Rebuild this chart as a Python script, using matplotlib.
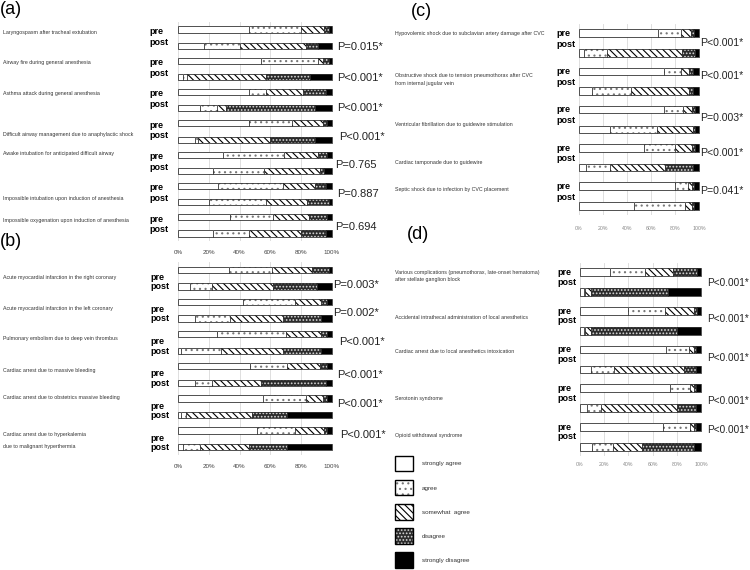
import matplotlib
matplotlib.use("Agg")
import numpy as np
from matplotlib import pyplot as plt
from matplotlib.patches import Patch
from matplotlib.legend_handler import HandlerTuple
from matplotlib.transforms import blended_transform_factory

# response categories (segments left -> right)
responses = ["strongly agree", "agree", "somewhat  agree", "disagree", "strongly disagree"]

# (a)
a_labels = ["Laryngospasm after tracheal extubation",
            "Airway fire during general anesthesia",
            "Asthma attack during general anesthesia",
            "Difficult airway management due to anaphylactic shock",
            "Awake intubation for anticipated difficult airway",
            "Impossible intubation upon induction of anesthesia",
            "Impossible oxygenation upon induction of anesthesia"]
a_pre = [[46, 34, 15, 3, 2], [54, 37, 3, 4, 2], [46, 11, 24, 15, 4], [46, 28, 20, 3, 3],
         [29, 40, 22, 6, 3], [26, 42, 21, 7, 4], [34, 28, 23, 12, 3]]
a_post = [[17, 23, 43, 8, 9], [3, 3, 51, 29, 14], [14, 11, 6, 58, 11], [11, 2, 47, 29, 11],
          [23, 33, 36, 3, 5], [20, 37, 27, 14, 2], [23, 23, 34, 16, 4]]
a_pvals = ["P=0.015*", "P<0.001*", "P<0.001*", "P<0.001*", "P=0.765", "P=0.887", "P=0.694"]

# (b)
b_labels = ["Acute myocardial infarction in the right coronary",
            "Acute myocardial infarction in the left coronary",
            "Pulmonary embolism due to deep vein thrombus",
            "Cardiac arrest due to massive bleeding",
            "Cardiac arrest due to obstetrics massive bleeding",
            "Cardiac arrest due to hyperkalemia\ndue to malignant hyperthermia"]
b_pre = [[33, 28, 26, 11, 2], [42, 34, 17, 4, 3], [25, 45, 23, 4, 3],
         [47, 24, 21, 5, 3], [55, 28, 11, 3, 3], [51, 25, 19, 2, 3]]
b_post = [[8, 14, 40, 28, 10], [11, 23, 34, 25, 7], [2, 26, 40, 25, 7],
          [11, 11, 32, 42, 4], [2, 3, 43, 23, 29], [3, 11, 32, 25, 29]]
b_pvals = ["P=0.003*", "P=0.002*", "P<0.001*", "P<0.001*", "P<0.001*", "P<0.001*"]

# (c)
c_labels = ["Hypovolemic shock due to subclavian artery damage after CVC",
            "Obstructive shock due to tension pneumothorax after CVC\nfrom internal jugular vein",
            "Ventricular fibrillation due to guidewire stimulation",
            "Cardiac tamponade due to guidewire",
            "Septic shock due to infection by CVC placement"]
c_pre = [[66, 19, 8, 3, 4], [71, 14, 7, 3, 5], [71, 16, 7, 3, 3], [54, 26, 14, 3, 3], [80, 11, 3, 2, 4]]
c_post = [[4, 19, 63, 11, 3], [11, 32, 49, 3, 5], [26, 39, 30, 2, 3], [6, 20, 46, 23, 5], [46, 42, 6, 2, 4]]
c_pvals = ["P<0.001*", "P<0.001*", "P=0.003*", "P<0.001*", "P=0.041*"]

# (d)
d_labels = ["Various complications (pneumothorax, late-onset hematoma)\nafter stellate ganglion block",
            "Accidental intrathecal administration of local anesthetics",
            "Cardiac arrest due to local anesthetics intoxication",
            "Serotonin syndrome",
            "Opioid withdrawal syndrome"]
d_pre = [[25, 29, 23, 20, 3], [40, 30, 24, 3, 3], [71, 19, 4, 2, 4], [74, 17, 3, 2, 4], [69, 22, 3, 2, 4]]
d_post = [[3, 1, 5, 64, 27], [3, 1, 5, 71, 20], [9, 19, 58, 10, 4], [6, 11, 63, 16, 4], [10, 17, 24, 43, 6]]
d_pvals = ["P<0.001*"] * 5

# segment styles
faces = ['white', 'white', 'white', '#2b2b2b', 'black']
hatches = [None, '...', '\\' * 5, '.....', None]
hatch_colors = ['white', '#777777', 'black', '#d8d8d8', 'black']

plt.rcParams['font.family'] = ['Liberation Sans', 'DejaVu Sans']
plt.rcParams['hatch.linewidth'] = 0.8

W, H = 750, 570
fig = plt.figure(figsize=(W / 100, H / 100), dpi=100)


def px_rect(x0, y0, x1, y1):
    return [x0 / W, 1 - y1 / H, (x1 - x0) / W, (y1 - y0) / H]


def draw_panel(ax, labels, pre, post, pvals, label_x, label_dy, label_ls, pp_x, pp_dy,
               p_x, p_dy, p_size, tick_size, tick_color, tick_pad):
    n = len(labels)
    ypos = np.arange(n)
    for rows, off in ((pre, -0.26), (post, 0.26)):
        vals = np.array(rows, dtype=float)
        lefts = np.cumsum(vals, axis=1) - vals
        for j in range(len(responses)):
            ax.barh(ypos + off, vals[:, j], left=lefts[:, j], height=0.2,
                    color=faces[j], hatch=hatches[j], edgecolor=hatch_colors[j],
                    linewidth=0, clip_on=False)
            ax.barh(ypos + off, vals[:, j], left=lefts[:, j], height=0.2,
                    fill=False, edgecolor='#333333', linewidth=0.6, clip_on=False)
    ax.set_xlim(0, 100)
    ax.set_ylim(n - 0.5, -0.5)
    ax.set_xticks(range(0, 101, 20))
    ax.set_xticklabels([f"{t}%" for t in range(0, 101, 20)])
    ax.set_yticks([])
    ax.tick_params(axis='x', length=0, labelsize=tick_size, labelcolor=tick_color, pad=tick_pad)
    for s in ax.spines.values():
        s.set_visible(False)
    ax.grid(axis='x', color='#d9d9d9', linewidth=0.6)
    ax.set_axisbelow(True)

    tr = blended_transform_factory(fig.transFigure, ax.transData)
    for i in range(n):
        ax.text(label_x / W, i + label_dy[i], labels[i], transform=tr, fontsize=3.8,
                color='#333333', va='center', ha='left', linespacing=label_ls)
        ax.text(pp_x / W, i + pp_dy[0], "pre", transform=tr, fontsize=6.5,
                fontweight='bold', va='center', ha='left')
        ax.text(pp_x / W, i + pp_dy[1], "post", transform=tr, fontsize=6.5,
                fontweight='bold', va='center', ha='left')
        ax.text(p_x[i] / W, i + p_dy[i], pvals[i], transform=tr, fontsize=p_size,
                color='#222222', va='center', ha='left')


ax_a = fig.add_axes(px_rect(178, 22, 332, 241))
draw_panel(ax_a, a_labels, a_pre, a_post, a_pvals, 3,
           [-0.18, -0.22, -0.23, 0.11, -0.31, 0.13, -0.17], 2.6, 149, (-0.2, 0.14),
           [337, 337, 337, 339, 335, 337, 335], [0.3, 0.29, 0.25, 0.18, 0.07, 0.0, 0.05], 8,
           4.5, '#444444', 6.5)

ax_b = fig.add_axes(px_rect(178, 262, 332, 455))
draw_panel(ax_b, b_labels, b_pre, b_post, b_pvals, 3,
           [-0.03, -0.06, -0.12, -0.12, -0.28, 0.06], 2.8, 150, (-0.02, 0.27),
           [333, 333, 339, 337, 337, 340], [0.22, 0.1, 0.0, 0.0, -0.1, -0.12], 8,
           4.5, '#444444', 6.5)

ax_c = fig.add_axes(px_rect(579, 24, 699, 215))
draw_panel(ax_c, c_labels, c_pre, c_post, c_pvals, 395,
           [-0.26, -0.05, 0.12, 0.13, -0.16], 1.6, 556, (-0.25, 0.03),
           [700] * 5, [0.0, -0.13, -0.04, -0.13, -0.13], 7.6,
           3.8, '#888888', 8)

ax_d = fig.add_axes(px_rect(580, 263, 701, 456))
draw_panel(ax_d, d_labels, d_pre, d_post, d_pvals, 395,
           [-0.16, -0.1, -0.2, 0.0, -0.04], 1.6, 557, (-0.25, 0.0),
           [707] * 5, [0.03, -0.05, -0.05, 0.08, -0.17], 7.2,
           3.8, '#888888', 4.5)

# panel letters
fig.text(0 / W, 1 - 10 / H, "(a)", fontsize=13, va='center', ha='left')
fig.text(0 / W, 1 - 242 / H, "(b)", fontsize=13, va='center', ha='left')
fig.text(411 / W, 1 - 11 / H, "(c)", fontsize=13, va='center', ha='left')
fig.text(407 / W, 1 - 235 / H, "(d)", fontsize=13, va='center', ha='left')

# legend
handles = []
for j in range(len(responses)):
    fill = Patch(facecolor=faces[j], hatch=hatches[j], edgecolor=hatch_colors[j], linewidth=0)
    outline = Patch(fill=False, edgecolor='black', linewidth=1.0)
    handles.append((fill, outline))
fig.legend(handles, responses, handler_map={tuple: HandlerTuple(ndivide=1, pad=0.0)},
           loc='upper left', bbox_to_anchor=(395 / W, 1 - 456 / H), borderpad=0,
           borderaxespad=0, fontsize=4.5, handlelength=2.9, handleheight=3.4,
           labelspacing=1.4, handletextpad=1.4, frameon=False, labelcolor='#333333')

fig.savefig("out.png", dpi=100)
